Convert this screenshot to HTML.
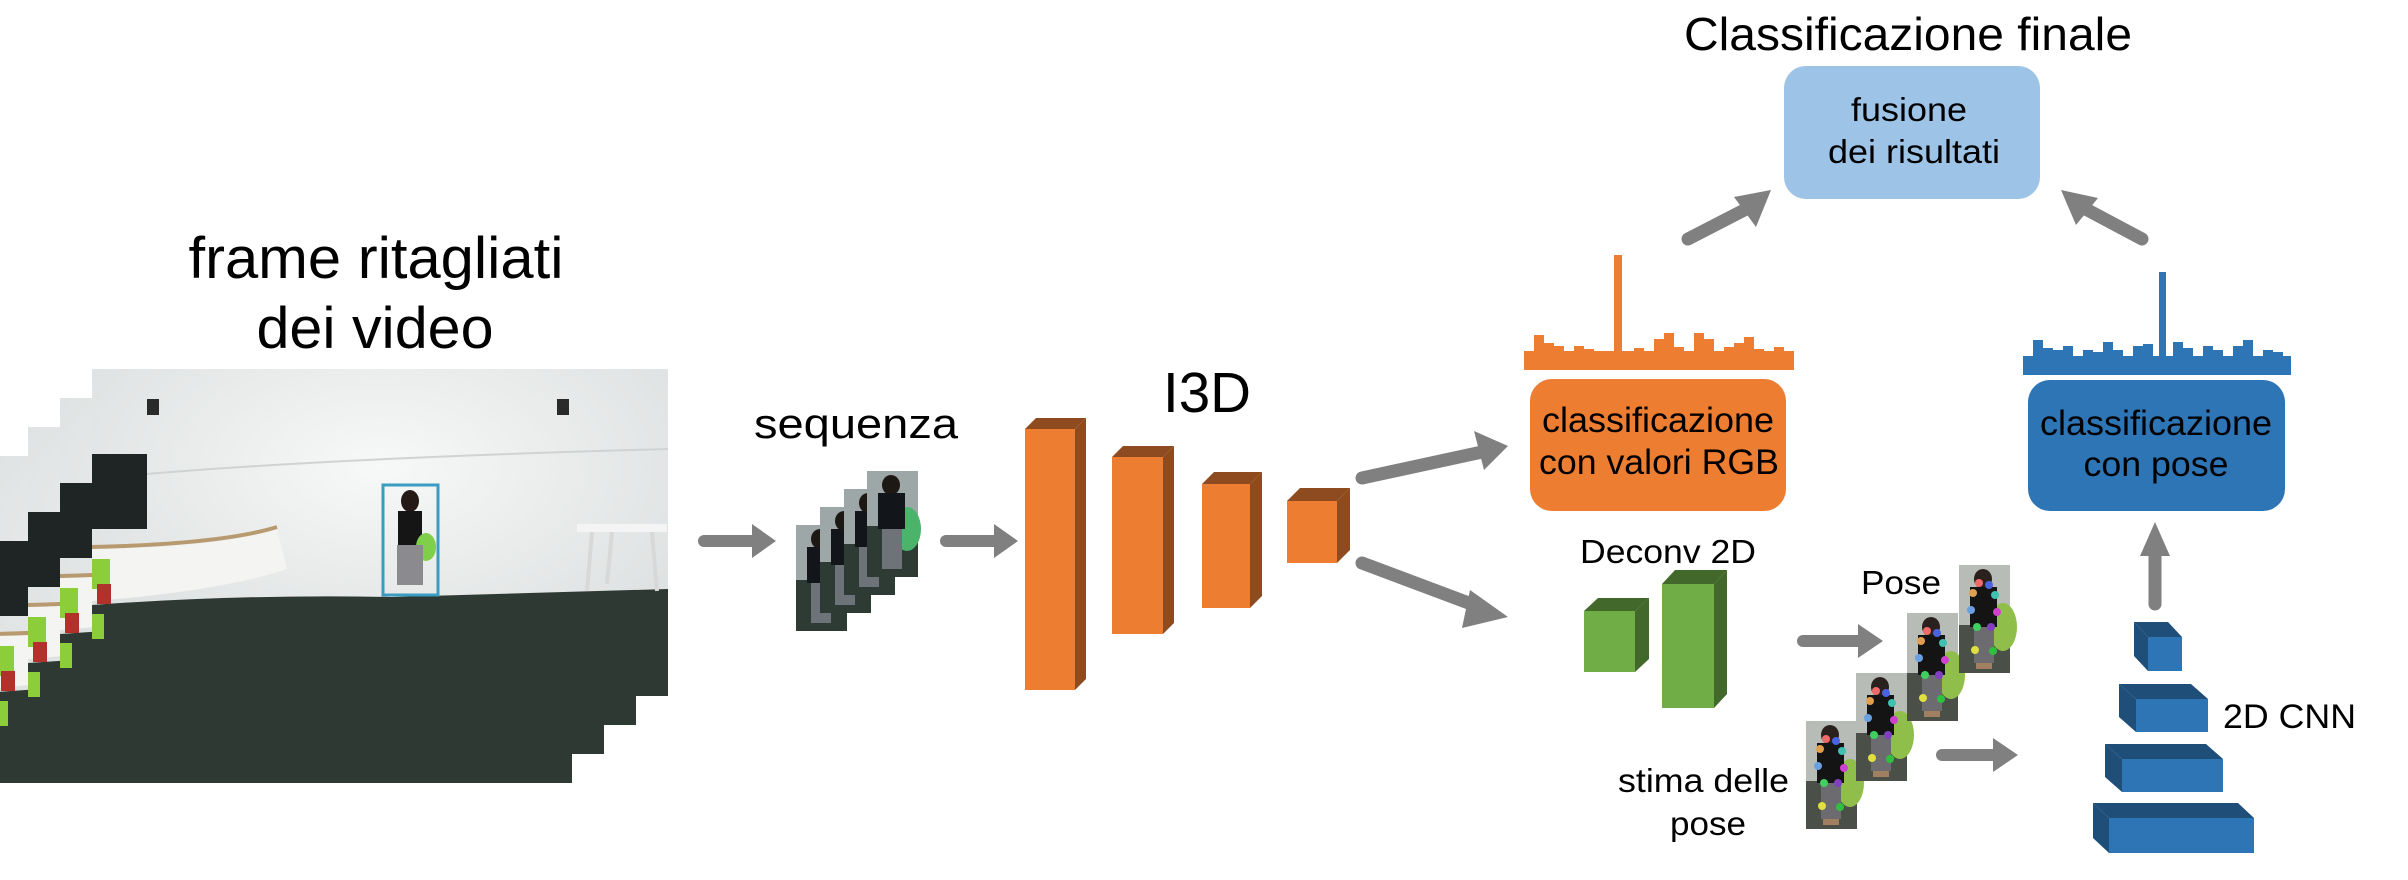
<!DOCTYPE html>
<html><head><meta charset="utf-8"><style>
html,body{margin:0;padding:0;background:#fff;}
svg{display:block;}
text{font-family:"Liberation Sans",sans-serif;fill:#000;}
</style></head><body>
<svg width="2408" height="880" viewBox="0 0 2408 880" xmlns="http://www.w3.org/2000/svg">
<defs>
<radialGradient id="wl" cx="0.5" cy="0.3" r="0.6">
<stop offset="0" stop-color="#f7f8f8"/><stop offset="1" stop-color="#dfe2e2"/></radialGradient>
<g id="photo">
<rect width="576" height="327" fill="url(#wl)"/>
<path d="M0 110 Q200 90 576 80" stroke="#d0d3d3" stroke-width="2" fill="none"/>
<rect x="0" y="85" width="55" height="75" fill="#1f2424"/>
<path d="M0 180 Q130 178 185 160 L195 200 Q130 222 0 232Z" fill="#f4f4f2"/>
<path d="M0 178 Q130 175 185 158" stroke="#b89a70" stroke-width="4" fill="none"/>
<path d="M0 236 Q150 225 300 228 L576 220 L576 327 L0 327Z" fill="#2f3933"/>
<rect x="0" y="190" width="18" height="30" fill="#8ccd3a"/>
<rect x="5" y="215" width="14" height="20" fill="#b4302a"/>
<rect x="0" y="245" width="12" height="25" fill="#8ccd3a"/>
<rect x="485" y="155" width="90" height="8" fill="#f4f4f4"/>
<path d="M500 163 L495 222 M560 163 L565 222 M520 163 L515 215" stroke="#d8d8d8" stroke-width="4"/>
<rect x="465" y="30" width="12" height="16" fill="#2a2a2a"/>
<rect x="55" y="30" width="12" height="16" fill="#2a2a2a"/>
<rect x="291" y="116" width="55" height="110" fill="none" stroke="#3a9cc0" stroke-width="3"/>
<ellipse cx="318" cy="132" rx="9" ry="11" fill="#241a16"/>
<rect x="306" y="142" width="24" height="34" fill="#151515"/>
<ellipse cx="334" cy="178" rx="10" ry="14" fill="#7fcf4a"/>
<rect x="305" y="176" width="26" height="40" fill="#8a8a8f"/>
</g>
<g id="fig">
<rect width="51" height="108" fill="#b8bcb7"/>
<rect y="60" width="51" height="48" fill="#4a5048"/>
<ellipse cx="44" cy="62" rx="14" ry="24" fill="#8fbf4a"/>
<ellipse cx="24" cy="14" rx="9" ry="10" fill="#2a211e"/>
<rect x="11" y="22" width="27" height="40" fill="#141414"/>
<rect x="15" y="62" width="20" height="36" fill="#6c6c70"/>
<rect x="17" y="98" width="16" height="6" fill="#a08060"/>
</g>
<g id="seq">
<rect width="51" height="106" fill="#9ea7a8"/>
<rect y="55" width="51" height="51" fill="#2e3b34"/>
<ellipse cx="40" cy="58" rx="14" ry="22" fill="#4bb36a"/>
<ellipse cx="24" cy="14" rx="9" ry="10" fill="#1e1814"/>
<rect x="11" y="22" width="27" height="36" fill="#12161a"/>
<rect x="15" y="58" width="20" height="40" fill="#6d7378"/>
</g>
<g id="dots">
<circle cx="20" cy="18" r="4" fill="#f06a6a"/><circle cx="30" cy="20" r="4" fill="#4a64e0"/>
<circle cx="14" cy="28" r="4" fill="#e0a050"/><circle cx="36" cy="30" r="4" fill="#40c0b0"/>
<circle cx="12" cy="45" r="4" fill="#6aa0e0"/><circle cx="38" cy="47" r="4" fill="#d040d0"/>
<circle cx="18" cy="62" r="4" fill="#40d060"/><circle cx="32" cy="62" r="4" fill="#8040c0"/>
<circle cx="16" cy="85" r="4" fill="#e0e040"/><circle cx="34" cy="86" r="4" fill="#30c040"/>
</g>
</defs>

<svg x="-4" y="456" width="576" height="327"><use href="#photo"/></svg>
<svg x="28" y="427" width="576" height="327"><use href="#photo"/></svg>
<svg x="60" y="398" width="576" height="327"><use href="#photo"/></svg>
<svg x="92" y="369" width="576" height="327"><use href="#photo"/></svg>

<text x="376" y="278" font-size="58" text-anchor="middle" textLength="375" lengthAdjust="spacingAndGlyphs">frame ritagliati</text>
<text x="375" y="348" font-size="58" text-anchor="middle" textLength="237" lengthAdjust="spacingAndGlyphs">dei video</text>

<g fill="#808080" stroke="none">
<path d="M704 535 H752 V524 L776 541 L752 558 V547 H704 A6 6 0 0 1 704 535Z"/>
<path d="M946 535 H994 V524 L1018 541 L994 558 V547 H946 A6 6 0 0 1 946 535Z"/>
<path d="M1803 635 H1858 V624 L1883 641 L1858 658 V647 H1803 A6 6 0 0 1 1803 635Z"/>
<path d="M1942 749 H1993 V738 L2018 755 L1993 772 V761 H1942 A6 6 0 0 1 1942 749Z"/>
</g>
<g stroke="#808080" stroke-width="13" stroke-linecap="round" fill="none">
<line x1="1362" y1="478" x2="1482" y2="452"/>
<line x1="1362" y1="563" x2="1482" y2="608"/>
<line x1="1688" y1="239" x2="1752" y2="206"/>
<line x1="2142" y1="239" x2="2080" y2="206"/>
<line x1="2155" y1="604" x2="2155" y2="545"/>
</g>
<g fill="#808080">
<polygon points="1508,446 1474,431 1484,470"/>
<polygon points="1508,617 1470,590 1462,628"/>
<polygon points="1771,190 1734,197 1756,227"/>
<polygon points="2061,190 2076,225 2098,198"/>
<polygon points="2155,522 2140,556 2170,556"/>
</g>

<text x="856" y="438" font-size="42" text-anchor="middle" textLength="204" lengthAdjust="spacingAndGlyphs">sequenza</text>
<use href="#seq" x="796" y="525"/>
<use href="#seq" x="820" y="507"/>
<use href="#seq" x="844" y="489"/>
<use href="#seq" x="867" y="471"/>

<text x="1163" y="412" font-size="57" textLength="88" lengthAdjust="spacingAndGlyphs">I3D</text>
<g>
<polygon points="1025,429 1036,418 1086,418 1075,429" fill="#8e4b1f"/><polygon points="1075,429 1086,418 1086,679 1075,690" fill="#8e4b1f"/><rect x="1025" y="429" width="50" height="261" fill="#ed7d31"/>
<polygon points="1112,457 1123,446 1174,446 1163,457" fill="#8e4b1f"/><polygon points="1163,457 1174,446 1174,623 1163,634" fill="#8e4b1f"/><rect x="1112" y="457" width="51" height="177" fill="#ed7d31"/>
<polygon points="1202,484 1214,472 1262,472 1250,484" fill="#8e4b1f"/><polygon points="1250,484 1262,472 1262,596 1250,608" fill="#8e4b1f"/><rect x="1202" y="484" width="48" height="124" fill="#ed7d31"/>
<polygon points="1287,501 1300,488 1350,488 1337,501" fill="#8e4b1f"/><polygon points="1337,501 1350,488 1350,550 1337,563" fill="#8e4b1f"/><rect x="1287" y="501" width="50" height="62" fill="#ed7d31"/>
</g>

<g fill="#ed7d31">
<rect x="1524" y="351" width="270" height="19"/>
<rect x="1534" y="335" width="10" height="16"/><rect x="1544" y="343" width="10" height="8"/><rect x="1554" y="346" width="10" height="5"/>
<rect x="1574" y="346" width="10" height="5"/><rect x="1584" y="349" width="10" height="2"/>
<rect x="1614" y="255" width="8" height="96"/><rect x="1634" y="348" width="10" height="3"/>
<rect x="1654" y="339" width="10" height="12"/><rect x="1664" y="333" width="10" height="18"/><rect x="1674" y="347" width="10" height="4"/>
<rect x="1694" y="333" width="10" height="18"/><rect x="1704" y="339" width="10" height="12"/><rect x="1724" y="347" width="10" height="4"/>
<rect x="1734" y="343" width="10" height="8"/><rect x="1744" y="337" width="10" height="14"/><rect x="1754" y="349" width="10" height="2"/><rect x="1774" y="347" width="10" height="4"/>
</g>
<rect x="1530" y="379" width="256" height="132" rx="22" fill="#ed7d31"/>
<text x="1658" y="432" font-size="35" text-anchor="middle" textLength="232" lengthAdjust="spacingAndGlyphs">classificazione</text>
<text x="1659" y="474" font-size="35" text-anchor="middle" textLength="240" lengthAdjust="spacingAndGlyphs">con valori RGB</text>

<g fill="#2e75b6">
<rect x="2023" y="356" width="268" height="19"/>
<rect x="2033" y="340" width="10" height="16"/><rect x="2043" y="348" width="10" height="8"/><rect x="2053" y="350" width="10" height="6"/>
<rect x="2063" y="346" width="10" height="10"/><rect x="2083" y="350" width="10" height="6"/><rect x="2093" y="352" width="10" height="4"/>
<rect x="2103" y="342" width="10" height="14"/><rect x="2113" y="350" width="10" height="6"/><rect x="2133" y="346" width="10" height="10"/>
<rect x="2143" y="344" width="10" height="12"/><rect x="2159" y="272" width="7" height="84"/><rect x="2173" y="342" width="10" height="14"/>
<rect x="2183" y="348" width="10" height="8"/><rect x="2203" y="346" width="10" height="10"/><rect x="2213" y="350" width="10" height="6"/>
<rect x="2233" y="346" width="10" height="10"/><rect x="2243" y="340" width="10" height="16"/><rect x="2263" y="350" width="10" height="6"/><rect x="2273" y="352" width="10" height="4"/>
</g>
<rect x="2028" y="380" width="257" height="131" rx="22" fill="#2e75b6"/>
<text x="2156" y="435" font-size="35" text-anchor="middle" textLength="232" lengthAdjust="spacingAndGlyphs">classificazione</text>
<text x="2156" y="476" font-size="35" text-anchor="middle" textLength="145" lengthAdjust="spacingAndGlyphs">con pose</text>

<text x="1908" y="50" font-size="46" text-anchor="middle" textLength="448" lengthAdjust="spacingAndGlyphs">Classificazione finale</text>
<rect x="1784" y="66" width="256" height="133" rx="22" fill="#9dc3e6"/>
<text x="1909" y="121" font-size="33" text-anchor="middle" textLength="116" lengthAdjust="spacingAndGlyphs">fusione</text>
<text x="1914" y="163" font-size="33" text-anchor="middle" textLength="172" lengthAdjust="spacingAndGlyphs">dei risultati</text>

<text x="1580" y="563" font-size="33" textLength="176" lengthAdjust="spacingAndGlyphs">Deconv 2D</text>
<polygon points="1584,611 1598,598 1649,598 1635,611" fill="#43682b"/><polygon points="1635,611 1649,598 1649,659 1635,672" fill="#43682b"/><rect x="1584" y="611" width="51" height="61" fill="#70ad47"/>
<polygon points="1662,584 1675,570 1727,570 1714,584" fill="#43682b"/><polygon points="1714,584 1727,570 1727,694 1714,708" fill="#43682b"/><rect x="1662" y="584" width="52" height="124" fill="#70ad47"/>

<text x="1861" y="594" font-size="33" textLength="80" lengthAdjust="spacingAndGlyphs">Pose</text>
<g transform="translate(1806,721)"><use href="#fig"/><use href="#dots"/></g>
<g transform="translate(1856,673)"><use href="#fig"/><use href="#dots"/></g>
<g transform="translate(1907,613)"><use href="#fig"/><use href="#dots"/></g>
<g transform="translate(1959,565)"><use href="#fig"/><use href="#dots"/></g>
<text x="1618" y="792" font-size="33" textLength="171" lengthAdjust="spacingAndGlyphs">stima delle</text>
<text x="1708" y="835" font-size="33" text-anchor="middle" textLength="76" lengthAdjust="spacingAndGlyphs">pose</text>

<g>
<polygon points="2134,622 2168,622 2182,637 2148,637" fill="#1f4e79"/><polygon points="2134,622 2148,637 2148,671 2134,656" fill="#1f4e79"/><rect x="2148" y="637" width="34" height="34" fill="#2e75b6"/>
<polygon points="2119,684 2191,684 2208,699 2136,699" fill="#1f4e79"/><polygon points="2119,684 2136,699 2136,732 2119,717" fill="#1f4e79"/><rect x="2136" y="699" width="72" height="33" fill="#2e75b6"/>
<polygon points="2105,744 2206,744 2223,759 2122,759" fill="#1f4e79"/><polygon points="2105,744 2122,759 2122,792 2105,777" fill="#1f4e79"/><rect x="2122" y="759" width="101" height="33" fill="#2e75b6"/>
<polygon points="2093,803 2238,803 2254,818 2109,818" fill="#1f4e79"/><polygon points="2093,803 2109,818 2109,853 2093,838" fill="#1f4e79"/><rect x="2109" y="818" width="145" height="35" fill="#2e75b6"/>
</g>
<text x="2223" y="728" font-size="34" textLength="133" lengthAdjust="spacingAndGlyphs">2D CNN</text>
</svg>
</body></html>
